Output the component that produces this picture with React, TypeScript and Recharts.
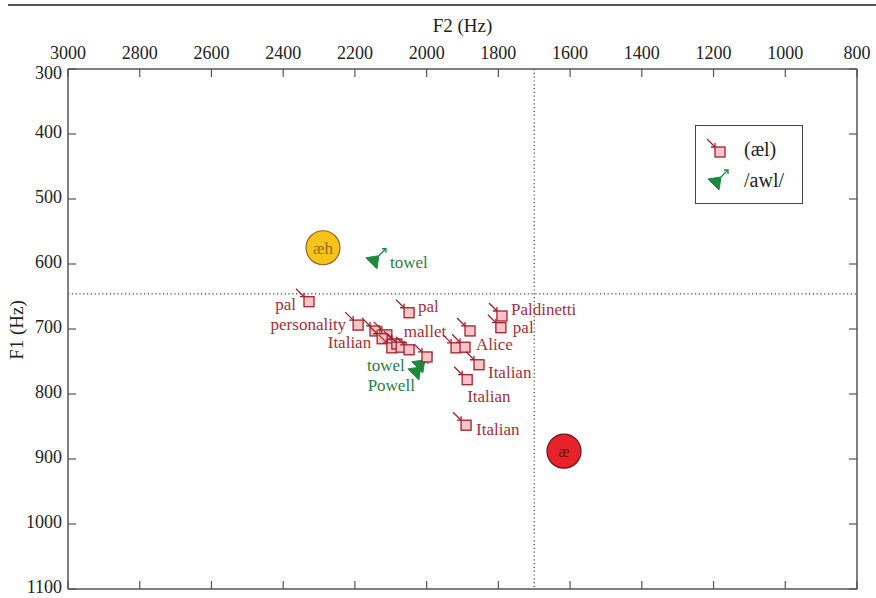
import { ScatterChart, Scatter, XAxis, YAxis, ReferenceLine } from 'recharts';

// (æl) tokens: F2 / F1 in Hz, plus the word each token came from
const aelF2 = [2328, 2191, 2144, 2111, 2124, 2097, 2083, 2071, 2049, 1999, 2049, 1918, 1893, 1879, 1854, 1887, 1890, 1790, 1793];
const aelF1 = [658, 694, 703, 709, 715, 729, 723, 728, 732, 743, 675, 729, 728, 703, 755, 778, 848, 680, 698];
const aelWords = ['pal', 'personality', '', '', 'Italian', '', '', '', '', 'mallet', 'pal', '', 'Alice', '', 'Italian', 'Italian', 'Italian', 'Paldinetti', 'pal'];

// /awl/ tokens
const awlF2 = [2147, 2019, 2030];
const awlF1 = [595, 755, 766];
const awlWords = ['towel', 'towel', 'Powell'];

// reference vowels
const vowelNames = ['æh', 'æ'];
const vowelF2 = [2289, 1617];
const vowelF1 = [575, 888];

const f2Ticks = [3000, 2800, 2600, 2400, 2200, 2000, 1800, 1600, 1400, 1200, 1000, 800];
const f1Ticks = [300, 400, 500, 600, 700, 800, 900, 1000, 1100];

// label placement next to each token (px from the marker centre)
type Spot = { dx: number; dy: number; anchor: 'start' | 'middle' | 'end' };
const aelSpots: Record<number, Spot> = {
  0: { dx: -13, dy: 2, anchor: 'end' },
  1: { dx: -12, dy: -1, anchor: 'end' },
  4: { dx: -11, dy: 3, anchor: 'end' },
  9: { dx: -2, dy: -26, anchor: 'middle' },
  10: { dx: 9, dy: -7, anchor: 'start' },
  12: { dx: 11, dy: -3, anchor: 'start' },
  14: { dx: 9, dy: 7, anchor: 'start' },
  15: { dx: 0, dy: 16, anchor: 'start' },
  16: { dx: 10, dy: 4, anchor: 'start' },
  17: { dx: 9, dy: -7, anchor: 'start' },
  18: { dx: 12, dy: -1, anchor: 'start' },
};
const awlSpots: Spot[] = [
  { dx: 16, dy: 1, anchor: 'start' },
  { dx: -15, dy: 0, anchor: 'end' },
  { dx: -1, dy: 13, anchor: 'end' },
];

const aelData = aelF2.map((f2, i) => ({ f2, f1: aelF1[i], word: aelWords[i], spot: aelSpots[i] }));
const awlData = awlF2.map((f2, i) => ({ f2, f1: awlF1[i], word: awlWords[i], spot: awlSpots[i] }));
const vowelData = vowelNames.map((name, i) => ({ name, f2: vowelF2[i], f1: vowelF1[i] }));

const W = 876;
const H = 598;
const PLOT = { left: 68, top: 69, right: 857, bottom: 589 };
const FONT = "'Liberation Serif', 'DejaVu Serif', serif";
const RED = '#a0222c';
const RED_TEXT = '#a3303a';
const PINK = '#f7c4c8';
const GREEN = '#1c8a3e';
const GREEN_TEXT = '#2a7d45';
const AXIS = '#555';
const serif = { fontFamily: FONT };

function AelGlyph({ cx, cy }: { cx: number; cy: number }) {
  const ex = cx - 5;
  const ey = cy - 5;
  return (
    <g>
      <line x1={cx - 13} y1={cy - 13} x2={ex} y2={ey} stroke={RED} strokeWidth={1.3} />
      <polyline points={`${ex - 4},${ey} ${ex},${ey} ${ex},${ey - 4}`} fill="none" stroke={RED} strokeWidth={1.3} />
      <rect x={cx - 5} y={cy - 5} width={10} height={10} fill={PINK} stroke={RED} strokeWidth={1.3} />
    </g>
  );
}

function AwlGlyph({ cx, cy }: { cx: number; cy: number }) {
  const sx = cx + 5;
  const sy = cy - 5;
  const ex = cx + 12;
  const ey = cy - 12;
  return (
    <g>
      <polygon points={`${cx - 8},${cy - 3} ${sx},${sy} ${cx + 3},${cy + 8}`} fill={GREEN} stroke={GREEN} strokeWidth={1} />
      <line x1={sx} y1={sy} x2={ex} y2={ey} stroke={GREEN} strokeWidth={1.3} />
      <polyline points={`${ex - 4},${ey} ${ex},${ey} ${ex},${ey + 4}`} fill="none" stroke={GREEN} strokeWidth={1.3} />
    </g>
  );
}

function TokenLabel({ cx, cy, word, spot, color }: { cx: number; cy: number; word: string; spot?: Spot; color: string }) {
  if (!word || !spot) return null;
  return (
    <text x={cx + spot.dx} y={cy + spot.dy} dy="0.35em" textAnchor={spot.anchor} style={serif} fontSize={17} fill={color}>
      {word}
    </text>
  );
}

const aelShape = (p: any) => (
  <g>
    <AelGlyph cx={p.cx} cy={p.cy} />
    <TokenLabel cx={p.cx} cy={p.cy} word={p.payload.word} spot={p.payload.spot} color={RED_TEXT} />
  </g>
);

const awlShape = (p: any) => (
  <g>
    <AwlGlyph cx={p.cx} cy={p.cy} />
    <TokenLabel cx={p.cx} cy={p.cy} word={p.payload.word} spot={p.payload.spot} color={GREEN_TEXT} />
  </g>
);

const vowelShape = (p: any) => {
  const isAeh = p.payload.name === 'æh';
  return (
    <g>
      <circle cx={p.cx} cy={p.cy} r={17} fill={isAeh ? '#f5c31a' : '#e8222a'} stroke={isAeh ? '#94661f' : '#6a1014'} strokeWidth={1.2} />
      <text x={p.cx} y={p.cy} dy="0.35em" textAnchor="middle" style={serif} fontSize={17} fill={isAeh ? '#9a6a1e' : '#6e1215'}>
        {p.payload.name}
      </text>
    </g>
  );
};

// top axis: label above, inward tick at top and bottom of the frame
const F2Tick = (p: any) => (
  <g>
    <text x={p.x} y={p.y} textAnchor="middle" style={serif} fontSize={18} fill="#222">
      {p.payload.value}
    </text>
    <line x1={p.x} y1={PLOT.top} x2={p.x} y2={PLOT.top + 8} stroke={AXIS} strokeWidth={1.2} />
    <line x1={p.x} y1={PLOT.bottom} x2={p.x} y2={PLOT.bottom - 8} stroke={AXIS} strokeWidth={1.2} />
  </g>
);

// left axis: label left of the frame (first one nudged down off the corner), inward ticks both sides
const F1Tick = (p: any) => (
  <g>
    <text x={p.x} y={p.y + (p.payload.value === 300 ? 4 : -2)} dy="0.35em" textAnchor="end" style={serif} fontSize={18} fill="#222">
      {p.payload.value}
    </text>
    <line x1={PLOT.left} y1={p.y} x2={PLOT.left + 8} y2={p.y} stroke={AXIS} strokeWidth={1.2} />
    <line x1={PLOT.right} y1={p.y} x2={PLOT.right - 8} y2={p.y} stroke={AXIS} strokeWidth={1.2} />
  </g>
);

function Legend() {
  return (
    <div
      style={{
        position: 'absolute', left: 695, top: 125, width: 106, height: 77,
        border: '1px solid #444', background: '#fff',
      }}
    >
      <svg width={106} height={77} style={{ position: 'absolute', left: 0, top: 0 }}>
        <AelGlyph cx={24} cy={26} />
        <text x={48} y={23} dy="0.35em" style={serif} fontSize={20} fill="#222">(æl)</text>
        <AwlGlyph cx={20} cy={56} />
        <text x={48} y={54} dy="0.35em" style={serif} fontSize={20} fill="#222">/awl/</text>
      </svg>
    </div>
  );
}

export default function App() {
  return (
    <div style={{ position: 'absolute', left: 0, top: 0, width: W, height: H, background: '#fff', fontFamily: FONT }}>
      <div style={{ position: 'absolute', left: 8, top: 4, width: W - 8, height: 2, background: AXIS }} />
      <ScatterChart
        width={W}
        height={H}
        style={serif}
        margin={{ top: PLOT.top - 40, left: PLOT.left - 50, right: W - PLOT.right, bottom: H - PLOT.bottom }}
      >
        <XAxis
          xAxisId={0}
          type="number"
          dataKey="f2"
          orientation="top"
          domain={[800, 3000]}
          ticks={f2Ticks}
          reversed
          allowDataOverflow
          height={40}
          tickSize={0}
          tickMargin={10}
          tickLine={false}
          axisLine={{ stroke: AXIS, strokeWidth: 1.5 }}
          tick={F2Tick}
          interval={0}
          label={{ value: 'F2 (Hz)', position: 'insideTop', offset: -10, style: serif, fontSize: 19, fill: '#222' }}
        />
        <YAxis
          yAxisId={0}
          type="number"
          dataKey="f1"
          domain={[300, 1100]}
          ticks={f1Ticks}
          reversed
          allowDataOverflow
          width={50}
          tickSize={0}
          tickMargin={6}
          tickLine={false}
          axisLine={{ stroke: AXIS, strokeWidth: 1.5 }}
          tick={F1Tick}
          interval={0}
        />
        <ReferenceLine y={1100} stroke={AXIS} strokeWidth={1.5} />
        <ReferenceLine x={800} stroke={AXIS} strokeWidth={1.5} />
        <ReferenceLine x={1700} stroke="#444" strokeWidth={1.2} strokeDasharray="1.2 2.6" />
        <ReferenceLine y={646} stroke="#444" strokeWidth={1.2} strokeDasharray="1.2 2.6" />
        <Scatter data={vowelData} shape={vowelShape} isAnimationActive={false} />
        <Scatter data={awlData} shape={awlShape} isAnimationActive={false} />
        <Scatter data={aelData} shape={aelShape} isAnimationActive={false} />
      </ScatterChart>
      <div
        style={{
          position: 'absolute', left: 4, top: 330, transform: 'translate(0, -50%) rotate(-90deg)',
          transformOrigin: 'center', fontSize: 19, color: '#222', whiteSpace: 'nowrap',
          width: 26, display: 'flex', justifyContent: 'center',
        }}
      >
        F1 (Hz)
      </div>
      <Legend />
    </div>
  );
}
